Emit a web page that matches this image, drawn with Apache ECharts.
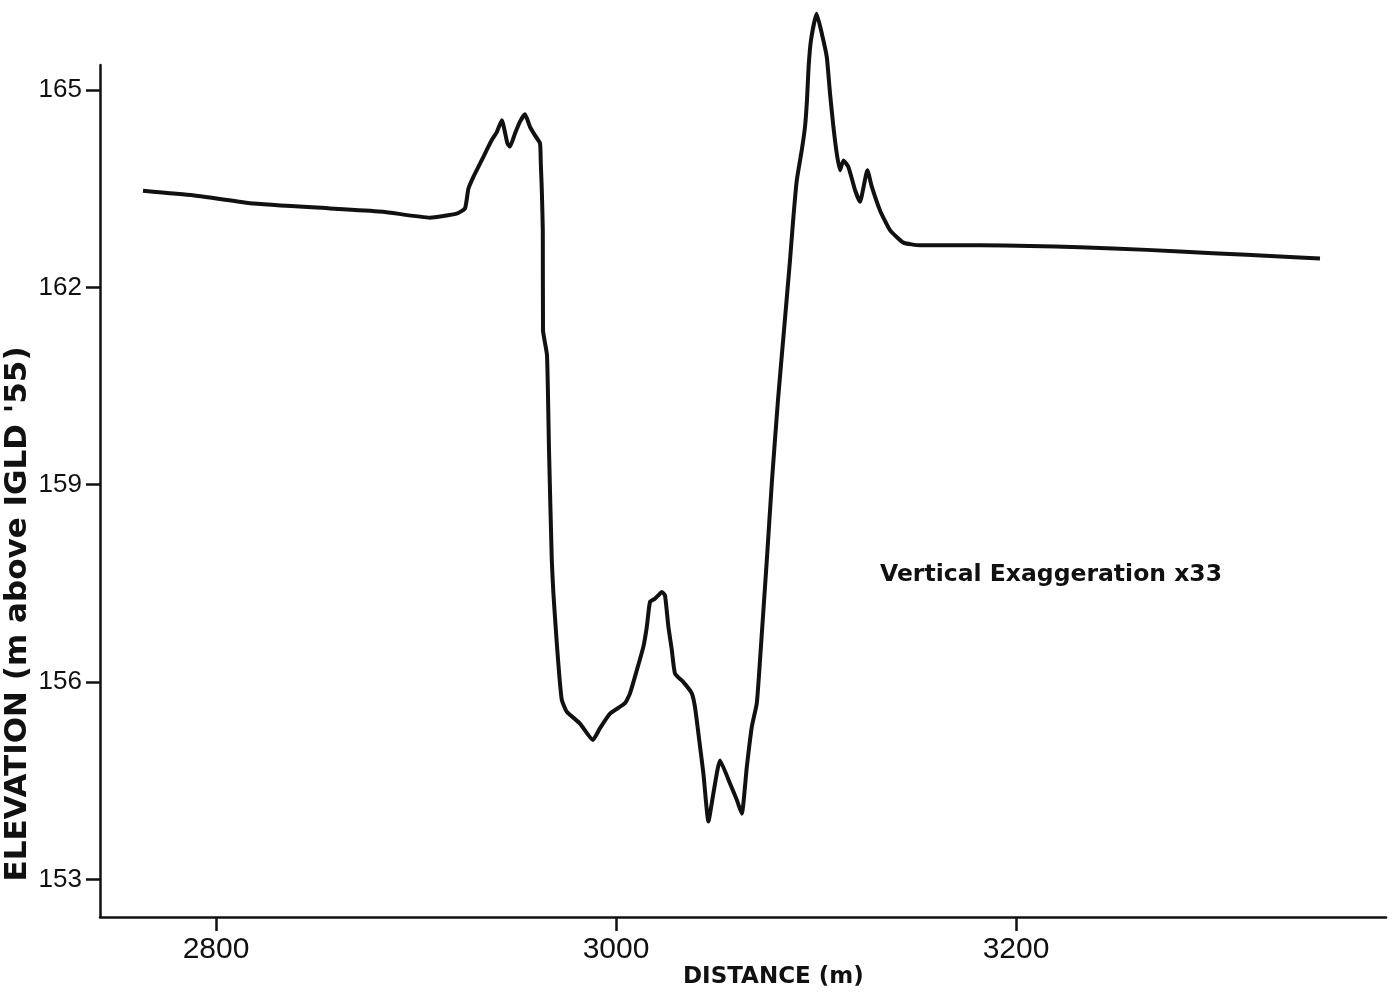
<!DOCTYPE html>
<html>
<head>
<meta charset="utf-8">
<script src="https://cdn.jsdelivr.net/npm/echarts@6/dist/echarts.min.js"></script>
<style>html,body{margin:0;padding:0;background:#fff;}#chart{width:1400px;height:994px;}</style>
</head>
<body>
<div id="chart"></div>
<script>
// Distance along profile (m)
const distance = [2763.5, 2788.5, 2817, 2857, 2883.5, 2907, 2920.3, 2924.5, 2926.2, 2928.7,
  2932, 2935.4, 2937.9, 2940.4, 2942.9, 2945.7, 2947, 2949.5, 2952, 2954.5,
  2957, 2959.5, 2962, 2962.4, 2962.9, 2963.4, 2963.5, 2965.5, 2966.5, 2967.9,
  2968.7, 2970.4, 2971.7, 2972.9, 2975.4, 2982, 2988.4, 2992, 2997, 3004.5,
  3007, 3010.4, 3013.7, 3015.4, 3017, 3019.5, 3021.2, 3022.9, 3024.5, 3026.2,
  3027.9, 3029.5, 3033.7, 3037.9, 3039.5, 3041.2, 3043.7, 3046.2, 3048.7, 3052,
  3057, 3060.4, 3062.9, 3065.4, 3067.9, 3070.4, 3072, 3073.7, 3075.4, 3078,
  3081, 3084, 3087, 3088.7, 3090.4, 3092.9, 3094.5, 3095.5, 3096.3, 3097.5,
  3100.3, 3102.9, 3105.4, 3107, 3108.7, 3110.4, 3112, 3113.7, 3116.2, 3119.5,
  3122, 3125.7, 3127.9, 3132, 3137, 3143.7, 3152, 3182, 3207, 3232,
  3265.4, 3298.5, 3332, 3352];
// Elevation (m above IGLD '55)
const elevation = [163.47, 163.40, 163.28, 163.20, 163.15, 163.06, 163.12, 163.20, 163.50, 163.68,
  163.88, 164.09, 164.24, 164.36, 164.54, 164.19, 164.14, 164.34, 164.52, 164.63,
  164.44, 164.31, 164.19, 163.89, 163.48, 162.87, 161.35, 160.97, 159.53, 157.85,
  157.35, 156.59, 156.08, 155.73, 155.55, 155.37, 155.12, 155.30, 155.52, 155.68,
  155.83, 156.18, 156.54, 156.84, 157.22, 157.27, 157.32, 157.37, 157.32, 156.84,
  156.49, 156.13, 156.00, 155.83, 155.62, 155.22, 154.61, 153.88, 154.31, 154.81,
  154.46, 154.21, 154.00, 154.71, 155.32, 155.68, 156.33, 157.09, 157.85, 159.07,
  160.29, 161.35, 162.41, 163.07, 163.63, 164.09, 164.44, 164.85, 165.35, 165.76,
  166.16, 165.86, 165.50, 164.95, 164.44, 164.03, 163.78, 163.93, 163.83, 163.48,
  163.30, 163.78, 163.53, 163.17, 162.87, 162.68, 162.64, 162.64, 162.63, 162.61,
  162.57, 162.52, 162.47, 162.44];
const xTicks = [2800, 3000, 3200];
const yTicks = [153, 156, 159, 162, 165];
const xTitle = 'DISTANCE (m)';
const yTitle = "ELEVATION (m above IGLD '55)";
const note = 'Vertical Exaggeration x33';

const chart = echarts.init(document.getElementById('chart'), null, {renderer: 'canvas'});
const data = distance.map((d, i) => [d, elevation[i]]);
const ink = '#111';
chart.setOption({
  animation: false,
  backgroundColor: '#fff',
  grid: {left: 100, right: 14, top: 65, bottom: 77, containLabel: false, outerBoundsMode: 'none'},
  xAxis: {
    type: 'value', min: 2742, max: 3385,
    axisLine: {show: true, lineStyle: {color: ink, width: 2.5}},
    axisTick: {show: true, customValues: xTicks, length: 14, lineStyle: {color: ink, width: 2.5}},
    axisLabel: {customValues: xTicks, formatter: v => String(v), margin: 18, color: ink, fontSize: 30, fontFamily: 'Liberation Sans, Arial, sans-serif'},
    splitLine: {show: false}
  },
  yAxis: {
    type: 'value', min: 152.43, max: 165.38,
    axisLine: {show: true, lineStyle: {color: ink, width: 2.5}},
    axisTick: {show: true, customValues: yTicks, length: 14, lineStyle: {color: ink, width: 2.5}},
    axisLabel: {customValues: yTicks, formatter: v => String(v), margin: 18, color: ink, fontSize: 26, fontFamily: 'Liberation Sans, Arial, sans-serif'},
    splitLine: {show: false}
  },
  series: [{
    type: 'line', data: data, showSymbol: false, smooth: 0.15,
    lineStyle: {color: ink, width: 4}, clip: false
  }],
  graphic: [
    {type: 'text', left: 683, top: 966, style: {text: xTitle, fill: ink, font: 'bold 23px "DejaVu Sans", sans-serif'}},
    {type: 'text', x: 18, y: 614, rotation: Math.PI / 2,
      style: {text: yTitle, fill: ink, font: 'bold 31px "DejaVu Sans", sans-serif', align: 'center', verticalAlign: 'middle'}},
    {type: 'text', left: 880, top: 563, style: {text: note, fill: ink, font: 'bold 23.5px "DejaVu Sans", sans-serif'}}
  ]
});
</script>
</body>
</html>
